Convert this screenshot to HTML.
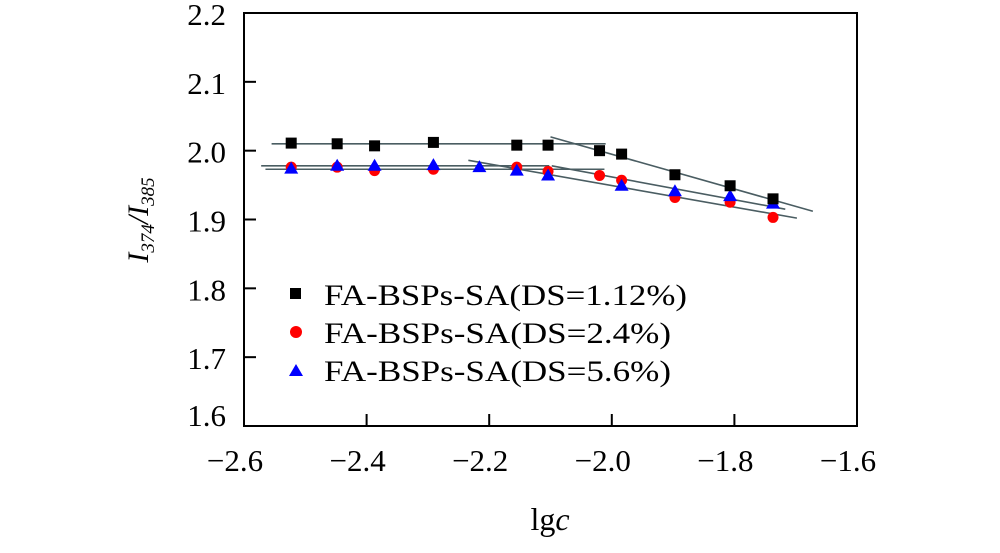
<!DOCTYPE html>
<html><head><meta charset="utf-8"><style>
body{margin:0;background:#fff}
svg{display:block;font-family:"Liberation Serif",serif}
</style></head><body>
<svg id="chart" width="1000" height="553">
<rect x="244" y="13" width="613" height="413" fill="none" stroke="#000" stroke-width="2"/>
<g id="axes"></g><g id="fits"></g><g id="marks"></g>
<text x="550" y="530" font-size="32" text-anchor="middle">lg<tspan font-style="italic">c</tspan></text>
<text transform="translate(148,220) rotate(-90)" font-size="30" text-anchor="middle" font-style="italic">I<tspan font-size="19" dy="6" font-style="italic">374</tspan><tspan dy="-6">/I</tspan><tspan font-size="19" dy="6">385</tspan></text>
<g>
<rect x="290" y="288" width="11" height="11" fill="#000"/>
<text x="324" y="305" font-size="30" textLength="363" lengthAdjust="spacingAndGlyphs">FA-BSPs-SA(DS=1.12%)</text>
<circle cx="296" cy="332" r="6" fill="#f00"/>
<text x="324" y="343" font-size="30" textLength="347" lengthAdjust="spacingAndGlyphs">FA-BSPs-SA(DS=2.4%)</text>
<polygon points="296,364 303,376 289,376" fill="#00f"/>
<text x="324" y="381" font-size="30" textLength="347" lengthAdjust="spacingAndGlyphs">FA-BSPs-SA(DS=5.6%)</text>
</g>
</svg>
<script>
const xTicks=[-2.6,-2.4,-2.2,-2.0,-1.8,-1.6];
const yTicks=[1.6,1.7,1.8,1.9,2.0,2.1,2.2];
const x1=[-2.523,-2.448,-2.387,-2.291,-2.155,-2.104,-2.020,-1.984,-1.897,-1.807,-1.737];
const y1=[2.011,2.010,2.007,2.012,2.008,2.008,2.000,1.995,1.965,1.949,1.930];
const x2=[-2.523,-2.448,-2.387,-2.291,-2.155,-2.104,-2.020,-1.984,-1.897,-1.807,-1.737];
const y2=[1.976,1.976,1.971,1.973,1.976,1.970,1.964,1.957,1.932,1.925,1.903];
const x3=[-2.523,-2.448,-2.387,-2.291,-2.216,-2.155,-2.104,-1.984,-1.897,-1.807,-1.737];
const y3=[1.974,1.978,1.978,1.979,1.976,1.971,1.964,1.949,1.941,1.934,1.923];
const fitLines=[[-2.555,2.010,-2.010,2.010],[-2.100,2.020,-1.672,1.912],[-2.572,1.978,-2.102,1.978],[-2.565,1.973,-2.012,1.973],[-2.234,1.986,-1.698,1.902],[-2.098,1.978,-1.717,1.915]];
const X=v=>244+(v+2.6)/1.0*613, Y=v=>426-(v-1.6)/0.6*413;
const NS="http://www.w3.org/2000/svg";
function mk(t,a,p){const e=document.createElementNS(NS,t);for(const k in a)e.setAttribute(k,a[k]);p.appendChild(e);return e;}
const ax=document.getElementById('axes');
xTicks.forEach(t=>{
 if(t>-2.6&&t<-1.6){const l=mk('line',{x1:X(t),x2:X(t),y1:426,y2:414,stroke:'#000','stroke-width':2},ax);
 
 }
 const s=mk('text',{x:X(t)-9,y:471,'font-size':31,'text-anchor':'middle'},ax);s.textContent='\u2212'+Math.abs(t).toFixed(1);
 
 
});
yTicks.forEach(t=>{
 if(t>1.6&&t<2.2){const l=mk('line',{x1:244,x2:256,y1:Y(t),y2:Y(t),stroke:'#000','stroke-width':2},ax);
 
 }
 const yy=t<1.65?Y(t):Y(t)+12;
 const s=mk('text',{x:226,y:yy,'font-size':31,'text-anchor':'end'},ax);s.textContent=t.toFixed(1);
 
 
});
const fg=document.getElementById('fits');
fitLines.forEach(f=>{const l=mk('line',{x1:X(f[0]),y1:Y(f[1]),x2:X(f[2]),y2:Y(f[3]),stroke:'#4a5d62','stroke-width':1.6},fg);
 
 });
const mg=document.getElementById('marks');
x2.forEach((x,i)=>{const c=mk('circle',{cx:X(x),cy:Y(y2[i]),r:5.5,fill:'#f00'},mg);
 
 });
x3.forEach((x,i)=>{const cx=X(x),cy=Y(y3[i]);const p=mk('polygon',{points:`${cx},${cy-7} ${cx+7},${cy+5} ${cx-7},${cy+5}`,fill:'#00f'},mg);
 
 });
x1.forEach((x,i)=>{const r=mk('rect',{x:X(x)-5.5,y:Y(y1[i])-5.5,width:11,height:11,fill:'#000'},mg);
 
 });
</script>
</body></html>
